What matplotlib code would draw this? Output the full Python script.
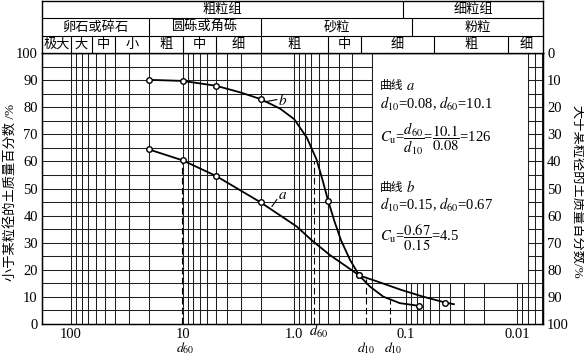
import numpy as np
import matplotlib
matplotlib.use('Agg')
import matplotlib.pyplot as plt
from matplotlib.patches import Rectangle

plt.rcParams['font.family'] = ['Liberation Serif', 'Noto Sans CJK SC']
plt.rcParams['mathtext.fontset'] = 'stix'

# ---------------- data ----------------
curve_a_d = [20, 10, 5, 2, 0.95, 0.70, 0.48, 0.26, 0.18, 0.11, 0.070, 0.044, 0.037]
curve_a_p = [64.4, 60.4, 54.6, 44.9, 36.0, 31.0, 25.5, 17.9, 15.7, 12.6, 10.1, 7.9, 7.3]
marker_a_d = [20, 10, 5, 2, 0.26, 0.044]
marker_a_p = [64.4, 60.4, 54.6, 44.9, 17.9, 7.9]

curve_b_d = [20, 10, 5, 3, 2, 1.34, 1.0, 0.77, 0.63, 0.558, 0.495, 0.436, 0.381,
             0.316, 0.261, 0.209, 0.159, 0.113, 0.076]
curve_b_p = [90.1, 89.7, 87.9, 85.4, 83.0, 79.5, 75.6, 68.8, 60.7, 53.3, 45.4, 38.0, 31.0,
             23.7, 17.9, 13.8, 10.1, 7.7, 6.7]
marker_b_d = [20, 10, 5, 2, 0.495, 0.261, 0.076]
marker_b_p = [90.1, 89.7, 87.9, 83.0, 45.4, 17.9, 6.7]

# dashed guide lines as drawn in the figure: (grain size, top percentage)
d60_lines_d = [10.1, 0.67]
d60_lines_p = [60, 60]
d10_lines_d = [0.227, 0.139]
d10_lines_p = [16.5, 9.0]

xtick_vals = [100, 10, 1, 0.1, 0.01]
xtick_labels = ['100', '10', '1.0', '0.1', '0.01']
ytick_vals = list(range(0, 101, 10))

row1_bounds = [0.105]
row1_labels = ['粗粒组', '细粒组']
row2_bounds = [20, 2, 0.087]
row2_labels = ['卵石或碎石', '圆砾或角砾', '砂粒', '粉粒']
row3_bounds = [100, 65, 40, 20, 10, 5, 2, 0.5, 0.25, 0.056, 0.012]
row3_labels = ['极大', '大', '中', '小', '粗', '中', '细', '粗', '中', '细', '粗', '细']

# ---------------- layout ----------------
W, H = 584, 356
fig = plt.figure(figsize=(W / 100, H / 100), dpi=100)
x0, x1 = 42, 543
yb, yt = 324, 53
XMAX, XMIN = 182, 0.00588


def px(x, y):
    return x / W, 1 - y / H


ax = fig.add_axes([x0 / W, 1 - yb / H, (x1 - x0) / W, (yb - yt) / H])
ax.set_xscale('log')
ax.set_xlim(XMAX, XMIN)
ax.set_ylim(0, 100)

gl = dict(color='#202020', lw=0.75, zorder=1)
for dec in [10, 1, 0.1, 0.01, 0.001]:
    for m in range(1, 10):
        v = m * dec
        if XMIN < v < XMAX:
            ax.axvline(v, **gl)
ax.axvline(100, **gl)
for yv in range(5, 100, 5):
    ax.axhline(yv, **gl)

ax.add_patch(Rectangle((0.008, 15), 0.2 - 0.008, 85, facecolor='white',
                       edgecolor='#202020', lw=0.75, zorder=2))

dl = dict(color='k', lw=0.8, ls=(0, (6, 3)), zorder=2.5)
for dv, pv in zip(d60_lines_d, d60_lines_p):
    ax.plot([dv, dv], [0, pv], **dl)
for dv, pv in zip(d10_lines_d, d10_lines_p):
    ax.plot([dv, dv], [0, pv], **dl)

ax.plot(curve_a_d, curve_a_p, color='k', lw=1.3, zorder=3)
ax.plot(curve_b_d, curve_b_p, color='k', lw=1.3, zorder=3)
mk = dict(ls='none', marker='o', ms=4, mfc='white', mec='k', mew=1.0, zorder=4)
ax.plot(marker_a_d, marker_a_p, **mk)
ax.plot(marker_b_d, marker_b_p, **mk)

ax.plot([1.82, 1.43], [82.0, 82.8], color='k', lw=0.8, zorder=3)
ax.text(1.40, 82.5, '$b$', fontsize=11, va='center', ha='left', zorder=5)
ax.plot([1.58, 1.43], [43.4, 45.9], color='k', lw=0.8, zorder=3)
ax.text(1.40, 47.5, '$a$', fontsize=11, va='center', ha='left', zorder=5)

ax.set_xticks(xtick_vals)
ax.set_xticklabels(xtick_labels)
ax.xaxis.set_minor_locator(matplotlib.ticker.NullLocator())
ax.set_yticks(ytick_vals)
ax.tick_params(length=0, labelsize=10.5, pad=3)
for s in ax.spines.values():
    s.set_linewidth(1.0)

ax2 = ax.twinx()
ax2.set_ylim(0, 100)
ax2.set_yticks(ytick_vals)
ax2.set_yticklabels([str(100 - v) for v in ytick_vals])
ax2.tick_params(length=0, labelsize=10.5, pad=3)

hax = fig.add_axes([x0 / W, 1 - yt / H, (x1 - x0) / W, (yt - 1) / H])
hax.set_xscale('log')
hax.set_xlim(XMAX, XMIN)
hax.set_ylim(0, 3)
hax.set_xticks([])
hax.set_yticks([])
hax.xaxis.set_minor_locator(matplotlib.ticker.NullLocator())
for s in hax.spines.values():
    s.set_linewidth(1.0)
for yy in [1, 2]:
    hax.axhline(yy, color='k', lw=0.8)


def header_row(bounds, labels, ylo):
    edges = [XMAX] + list(bounds) + [XMIN]
    for b in bounds:
        hax.plot([b, b], [ylo, ylo + 1], color='k', lw=0.8)
    for i, lab in enumerate(labels):
        c = np.sqrt(edges[i] * edges[i + 1])
        hax.text(c, ylo + 0.5, lab, ha='center', va='center', fontsize=9.5,
                 family='Noto Sans CJK SC')


header_row(row1_bounds, row1_labels, 2)
header_row(row2_bounds, row2_labels, 1)
header_row(row3_bounds, row3_labels, 0)

fig.text(*px(11, 192), '小于某粒径的土质量百分数 /%', rotation=90, ha='center',
         va='center', fontsize=9.5)
fig.text(*px(576, 192), '大于某粒径的土质量百分数/%', rotation=270, ha='center',
         va='center', fontsize=9.5)

fs = 10.5
cjk = dict(fontsize=8.5, va='center', family='Noto Sans CJK SC')
fig.text(*px(380, 86), '曲线', **cjk)
fig.text(*px(406, 86), '$a$', fontsize=fs, va='center')
fig.text(*px(380, 104), '$d_{10}$=0.08, $d_{60}$=10.1', fontsize=fs, va='center')
fig.text(*px(380, 139), r'$C_{\rm u}$=$\dfrac{d_{60}}{d_{10}}$=$\dfrac{10.1}{0.08}$=126',
         fontsize=fs, va='center')
fig.text(*px(380, 187), '曲线', **cjk)
fig.text(*px(406, 187), '$b$', fontsize=fs, va='center')
fig.text(*px(380, 205), '$d_{10}$=0.15, $d_{60}$=0.67', fontsize=fs, va='center')
fig.text(*px(380, 238), r'$C_{\rm u}$=$\dfrac{0.67}{0.15}$=4.5', fontsize=fs, va='center')

fig.text(*px(185, 340), '$d_{60}$', fontsize=10, ha='center', va='top')
fig.text(*px(319, 331), '$d_{60}$', fontsize=10.5, ha='center', va='center')
fig.text(*px(366, 340), '$d_{10}$', fontsize=10, ha='center', va='top')
fig.text(*px(393, 340), '$d_{10}$', fontsize=10, ha='center', va='top')

fig.savefig('out.png', dpi=100)
